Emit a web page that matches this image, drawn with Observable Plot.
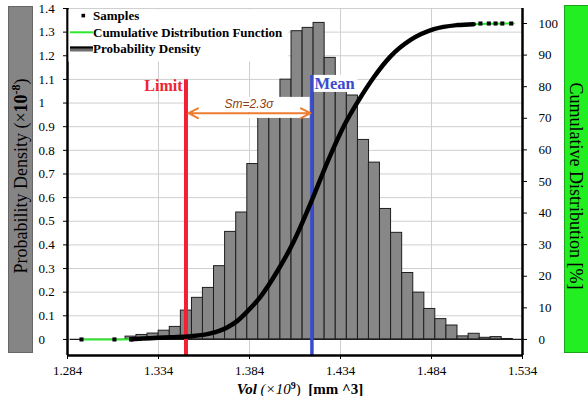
<!DOCTYPE html>
<html>
<head>
<meta charset="utf-8">
<script src="https://cdn.jsdelivr.net/npm/d3@7"></script>
<script src="https://cdn.jsdelivr.net/npm/@observablehq/plot@0.6"></script>
<style>
html, body { margin: 0; padding: 0; background: #fff; }
#chart { width: 588px; height: 396px; }
</style>
</head>
<body>
<div id="chart"></div>
<script>
// ---- data ----
const xTicks = [1.284, 1.334, 1.384, 1.434, 1.484, 1.534];
const xTickLabels = ["1.284", "1.334", "1.384", "1.434", "1.484", "1.534"];
const yTicksLeft = [0, 0.1, 0.2, 0.3, 0.4, 0.5, 0.6, 0.7, 0.8, 0.9, 1, 1.1, 1.2, 1.3, 1.4];
const yTicksRight = [0, 10, 20, 30, 40, 50, 60, 70, 80, 90, 100];

const binWidth = 0.00608;
const binStart = [1.2855, 1.2916, 1.2976, 1.3037, 1.3098, 1.3159, 1.3219, 1.3280, 1.3341, 1.3402,
  1.3463, 1.3524, 1.3584, 1.3645, 1.3706, 1.3767, 1.3828, 1.3888, 1.3949, 1.4010,
  1.4071, 1.4132, 1.4192, 1.4253, 1.4314, 1.4375, 1.4436, 1.4496, 1.4557, 1.4618,
  1.4679, 1.4740, 1.4800, 1.4861, 1.4922, 1.4983, 1.5044, 1.5104, 1.5165, 1.5226, 1.5287];
const density = [0, 0, 0, 0, 0,
  0.012, 0.019, 0.025, 0.037, 0.053, 0.122, 0.176, 0.218, 0.310, 0.455,
  0.537, 0.742, 0.950, 0.975, 1.099, 1.304, 1.318, 1.339, 1.191, 1.113,
  1.032, 0.844, 0.748, 0.552, 0.451, 0.281, 0.198, 0.129, 0.086, 0.059,
  0.013, 0.024, 0.007, 0.010, 0.002, 0];

// Cumulative distribution function (green line), percent
const cdfX = [1.2917, 1.3098, 1.3190, 1.3296, 1.3406, 1.3516, 1.3626, 1.3717, 1.3772, 1.3827,
  1.3900, 1.3992, 1.4083, 1.4175, 1.4267, 1.4358, 1.4441, 1.4523, 1.4615, 1.4725,
  1.4853, 1.4981, 1.5072, 1.5292];
const cdfPct = [0, 0, 0.1, 0.4, 0.7, 1.0, 1.9, 3.8, 5.8, 8.8,
  13.5, 21.5, 31.0, 43.0, 56.0, 67.5, 75.8, 83.0, 89.6, 94.8,
  98.2, 99.5, 99.8, 100];

// Samples: dense run (drawn as a thick black trace) and isolated samples
const sampleX = [1.3190, 1.3296, 1.3406, 1.3516, 1.3626, 1.3717, 1.3772, 1.3827, 1.3900, 1.3992,
  1.4083, 1.4175, 1.4267, 1.4358, 1.4441, 1.4523, 1.4615, 1.4725, 1.4853, 1.4981, 1.5072];
const samplePct = [0.1, 0.4, 0.7, 1.0, 1.9, 3.8, 5.8, 8.8, 13.5, 21.5,
  31.0, 43.0, 56.0, 67.5, 75.8, 83.0, 89.6, 94.8, 98.2, 99.5, 99.8];
const sampleDotX = [1.2917, 1.3098, 1.3190, 1.5109, 1.5155, 1.5192, 1.5229, 1.5278];
const sampleDotPct = [0, 0, 0, 100, 100, 100, 100, 100];

// annotations
const limitX = 1.3491;
const meanX = 1.4183;
const limitTop = 1.099;
const meanTop = 1.117;
const smLabel = "Sm=2.3σ";

// ---- scales ----
const yMin = -0.0679, yMax = 1.4;
const pctTop = 104.75;
const f = yMax / pctTop;            // left-units per percent
const toL = p => p * f;

const bins = binStart.map((x, i) => ({x1: x, x2: x + binWidth, h: density[i]}));
const cdf = cdfX.map((x, i) => ({x, y: toL(cdfPct[i])}));
const samples = sampleX.map((x, i) => ({x, y: toL(samplePct[i])}));
const sampleDots = sampleDotX.map((x, i) => ({x, y: toL(sampleDotPct[i])}));

const armMid = (limitX + meanX) / 2;
const arrows = [
  {x1: armMid, x2: limitX + 0.0014, y: 0.957},
  {x1: armMid, x2: meanX - 0.0008, y: 0.957}
];

const serif = "'Liberation Serif', 'Times New Roman', serif";

const svg = Plot.plot({
  width: 588,
  height: 396,
  marginLeft: 67,
  marginRight: 66,
  marginTop: 8,
  marginBottom: 41,
  x: {domain: [1.284, 1.534]},
  y: {domain: [yMin, yMax]},
  style: {fontFamily: serif, fontSize: "13px", color: "#000", background: "#fff", overflow: "visible"},
  marks: [
    Plot.gridX(xTicks.slice(1, -1), {stroke: "#cfcfcf", strokeOpacity: 1}),
    Plot.gridY(yTicksLeft, {stroke: "#cfcfcf", strokeOpacity: 1}),
    Plot.rect(bins.filter(d => d.h > 0), {x1: "x1", x2: "x2", y1: 0, y2: "h", fill: "#878787", stroke: "#1e1e1e", strokeWidth: 1}),
    Plot.ruleY([0], {x1: binStart[0], x2: binStart[binStart.length - 1] + binWidth, stroke: "#1e1e1e", strokeWidth: 1.2}),
    // label backgrounds
    Plot.rect([{x1: limitX + 0.0014, x2: meanX - 0.0010, y1: 0.935, y2: 1.024}], {x1: "x1", x2: "x2", y1: "y1", y2: "y2", fill: "#fff"}),
    Plot.rect([{x1: meanX + 0.0008, x2: 1.4436, y1: 1.045, y2: 1.117}], {x1: "x1", x2: "x2", y1: "y1", y2: "y2", fill: "#fff"}),
    // limit / mean lines
    Plot.ruleX([limitX], {y1: yMin, y2: limitTop, stroke: "#ee2232", strokeWidth: 4}),
    Plot.ruleX([meanX], {y1: yMin, y2: meanTop, stroke: "#3a4bcc", strokeWidth: 3.5}),
    // CDF and samples
    Plot.line(cdf, {x: "x", y: "y", stroke: "#2ee82e", strokeWidth: 2, curve: "monotone-x"}),
    Plot.line(samples, {x: "x", y: "y", stroke: "#000", strokeWidth: 4.5, curve: "monotone-x"}),
    Plot.dot(sampleDots, {x: "x", y: "y", symbol: "square", r: 2.3, fill: "#000", stroke: null}),
    // annotation arrow + labels
    Plot.arrow(arrows, {x1: "x1", x2: "x2", y1: "y", y2: "y", stroke: "#ed7d31", strokeWidth: 2, headLength: 8, headAngle: 55}),
    Plot.text([smLabel], {x: armMid, y: 0.977, text: d => d, lineAnchor: "bottom", fontFamily: "'Liberation Sans', Arial, sans-serif", fontStyle: "italic", fontSize: 12, fill: "#8a3d10"}),
    Plot.text(["Limit"], {x: limitX, y: 1.050, text: d => d, textAnchor: "end", dx: -3.5, lineAnchor: "bottom", fontWeight: "bold", fontSize: 16, fill: "#ee2232"}),
    Plot.text(["Mean"], {x: meanX, y: 1.0576, text: d => d, textAnchor: "start", dx: 2.5, lineAnchor: "bottom", fontWeight: "bold", fontSize: 16.5, fill: "#3a4bcc"}),
    // axes
    Plot.axisX(xTicks, {tickSize: 4, tickPadding: 6, tickFormat: (d, i) => xTickLabels[i], fontSize: 13, label: null}),
    Plot.axisY(yTicksLeft, {anchor: "left", tickSize: 4, tickPadding: 25, textAnchor: "start", tickFormat: d => String(d), fontSize: 13, label: null}),
    Plot.axisY(yTicksRight.map(toL), {anchor: "right", tickSize: 4, tickPadding: 12, textAnchor: "start", tickFormat: d => String(Math.round(d / f)), fontSize: 13, label: null}),
    Plot.ruleX([1.284], {stroke: "#000", strokeWidth: 2.5}),
    Plot.ruleX([1.534], {stroke: "#000", strokeWidth: 2.5}),
    Plot.ruleY([yMin], {stroke: "#000", strokeWidth: 2.5})
  ]
});

document.getElementById("chart").appendChild(svg);

// ---- decorations: legend, axis title boxes, x title ----
const g = d3.select(svg);
const legend = g.append("g").attr("font-family", serif).attr("font-size", 13).attr("font-weight", "bold").attr("text-anchor", "start");
legend.append("rect").attr("x", 68.5).attr("y", 9.5).attr("width", 220).attr("height", 52).attr("fill", "#fff");
legend.append("rect").attr("x", 81.5).attr("y", 13.8).attr("width", 3.6).attr("height", 3.6).attr("fill", "#000");
legend.append("line").attr("x1", 70).attr("x2", 93).attr("y1", 32.3).attr("y2", 32.3).attr("stroke", "#2ee82e").attr("stroke-width", 2);
legend.append("rect").attr("x", 70).attr("y", 46.5).attr("width", 23).attr("height", 5).attr("fill", "#6e6e6e");
legend.append("line").attr("x1", 70).attr("x2", 93).attr("y1", 47.5).attr("y2", 47.5).attr("stroke", "#000").attr("stroke-width", 2);
const legendItems = ["Samples", "Cumulative Distribution Function", "Probability Density"];
const legendY = [19.5, 36.5, 52.5];
legendItems.forEach((t, i) => legend.append("text").attr("x", 93).attr("y", legendY[i]).attr("text-anchor", "start").text(t));

// left axis title box
g.append("rect").attr("x", 8.5).attr("y", 6.5).attr("width", 24).attr("height", 346)
  .attr("fill", "#858585").attr("stroke", "#666").attr("stroke-width", 1);
const lt = g.append("text").attr("transform", "translate(20.5,176) rotate(-90)")
  .attr("text-anchor", "middle").attr("dy", "0.34em")
  .attr("font-family", serif).attr("font-size", 18).attr("fill", "#000");
lt.append("tspan").text("Probability Density (×");
lt.append("tspan").attr("font-weight", "bold").text("10");
lt.append("tspan").attr("font-weight", "bold").attr("font-size", 12).attr("baseline-shift", "super").text("-8");
lt.append("tspan").text(")");

// right axis title box
g.append("rect").attr("x", 564.5).attr("y", 5.5).attr("width", 24).attr("height", 347)
  .attr("fill", "#22ee22").attr("stroke", "#1aa21a").attr("stroke-width", 1);
g.append("text").attr("transform", "translate(576.5,186) rotate(90)")
  .attr("text-anchor", "middle").attr("dy", "0.34em")
  .attr("font-family", serif).attr("font-size", 18).attr("fill", "#000")
  .text("Cumulative Distribution [%]");

// x axis title
const xt = g.append("text").attr("x", 300).attr("y", 394).attr("text-anchor", "middle")
  .attr("font-family", serif).attr("font-size", 15).attr("fill", "#000");
xt.append("tspan").attr("font-weight", "bold").attr("font-style", "italic").text("Vol");
xt.append("tspan").attr("font-style", "italic").text(" (×10");
xt.append("tspan").attr("font-size", 10).attr("font-weight", "bold").attr("baseline-shift", "super").text("9");
xt.append("tspan").text(")  ");
xt.append("tspan").attr("font-weight", "bold").text("[mm ^3]");
</script>
</body>
</html>
